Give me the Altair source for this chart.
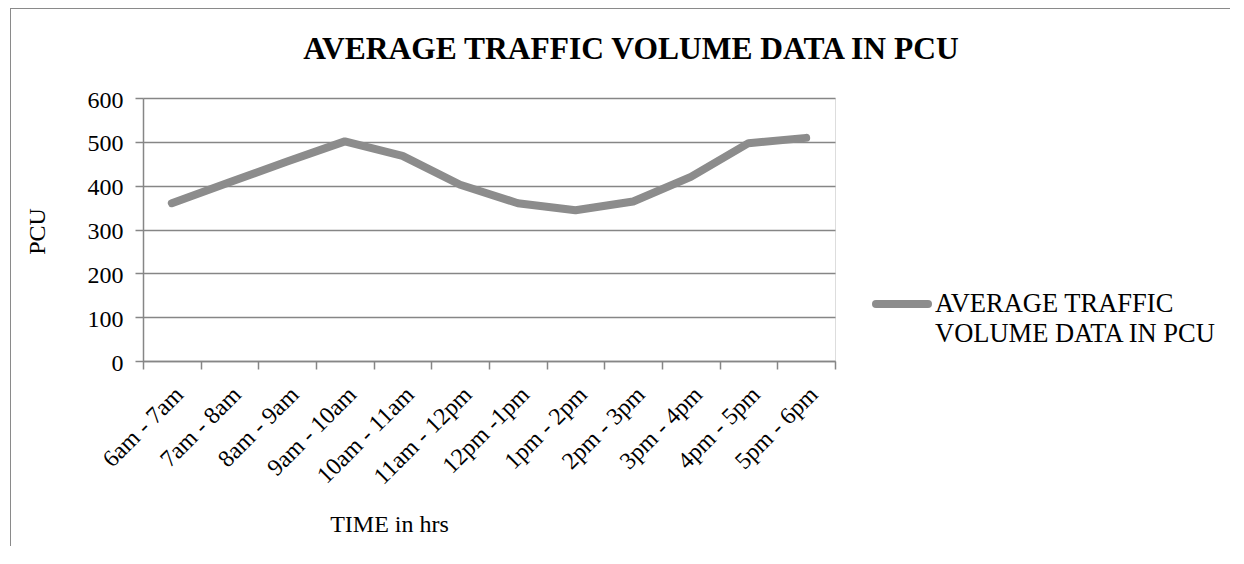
import altair as alt
import pandas as pd

periods = ["6am - 7am", "7am - 8am", "8am - 9am", "9am - 10am", "10am - 11am",
           "11am - 12pm", "12pm -1pm", "1pm - 2pm", "2pm - 3pm", "3pm - 4pm",
           "4pm - 5pm", "5pm - 6pm"]
pcu = [360, 408, 455, 501, 468, 402, 360, 344, 364, 420, 497, 509]
y_ticks = [0, 100, 200, 300, 400, 500, 600]
series_name = "AVERAGE TRAFFIC VOLUME DATA IN PCU"
legend_lines = "AVERAGE TRAFFIC\nVOLUME DATA IN PCU"

df = pd.DataFrame({"period": periods, "pcu": pcu})
one = pd.DataFrame({"a": [0]})

FONT = "Liberation Serif"
GREY = "#8c8c8c"
AX = "#868686"
W, H = 692, 263
PL, PT, PR, PB = 135, 90, 395, 185
FS = 24

line = alt.Chart(df).mark_line(
    color=GREY, strokeWidth=8, strokeCap="round", strokeJoin="round"
).encode(
    x=alt.X("period:N", sort=periods,
            scale=alt.Scale(type="band", paddingInner=0, paddingOuter=0),
            axis=alt.Axis(title="TIME in hrs", labelAngle=-45, labelAlign="right",
                          labelBaseline="top", labelFont=FONT, labelFontSize=FS,
                          labelColor="black", labelPadding=13, labelOffset=-1,
                          tickBand="extent", tickSize=8, tickColor=AX,
                          domainColor=AX, domainWidth=1.5, tickWidth=1.5,
                          grid=False, labelOverlap=False, labelLimit=300,
                          titleFont=FONT, titleFontSize=FS, titleFontWeight="normal",
                          titleColor="black", titleX=246, titleY=170,
                          titleAlign="center", titleBaseline="alphabetic")),
    y=alt.Y("pcu:Q", scale=alt.Scale(domain=[0, 600], nice=False),
            axis=alt.Axis(title="PCU", values=y_ticks, labelFont=FONT, labelFontSize=FS,
                          labelColor="black", labelPadding=12, labelOffset=2, tickSize=8,
                          tickColor=AX, tickWidth=1.5, domainColor=AX, domainWidth=1.5,
                          grid=True, gridColor=AX, gridWidth=1.5,
                          titleFont=FONT, titleFontSize=FS, titleFontWeight="normal",
                          titleColor="black", titleX=-106, titleY=133, titleAngle=270,
                          titleAlign="center", titleBaseline="middle")),
)

title_txt = alt.Chart(one).mark_text(
    align="center", baseline="alphabetic", font=FONT, fontSize=31.5, fontWeight="bold",
    color="black"
).encode(x=alt.value(488), y=alt.value(-39), text=alt.value(series_name))

legend_sym = alt.Chart(one).mark_rule(
    color=GREY, strokeWidth=8, strokeCap="round"
).encode(x=alt.value(733), x2=alt.value(785), y=alt.value(206))

legend_txt = alt.Chart(one).mark_text(
    align="left", baseline="alphabetic", font=FONT, fontSize=26.5, color="black",
    lineBreak="\n", lineHeight=30
).encode(x=alt.value(792), y=alt.value(214), text=alt.value(legend_lines))

frame_left = alt.Chart(one).mark_rule(color="#8a8a8a", strokeWidth=1).encode(
    x=alt.value(-PL + 2.5), y=alt.value(-PT), y2=alt.value(H + PB))
frame_top = alt.Chart(one).mark_rule(color="#8a8a8a", strokeWidth=1).encode(
    x=alt.value(-PL + 2.5), x2=alt.value(W + PR), y=alt.value(-PT + 0.5))

chart = alt.layer(line, title_txt, legend_sym, legend_txt, frame_left, frame_top).properties(
    width=W, height=H,
    padding={"left": PL, "top": PT, "right": PR, "bottom": PB},
    autosize=alt.AutoSizeParams(type="none"),
).configure_view(stroke=None).configure(background="white")

chart.save("out.html", embed_options={"renderer": "svg", "actions": False})
